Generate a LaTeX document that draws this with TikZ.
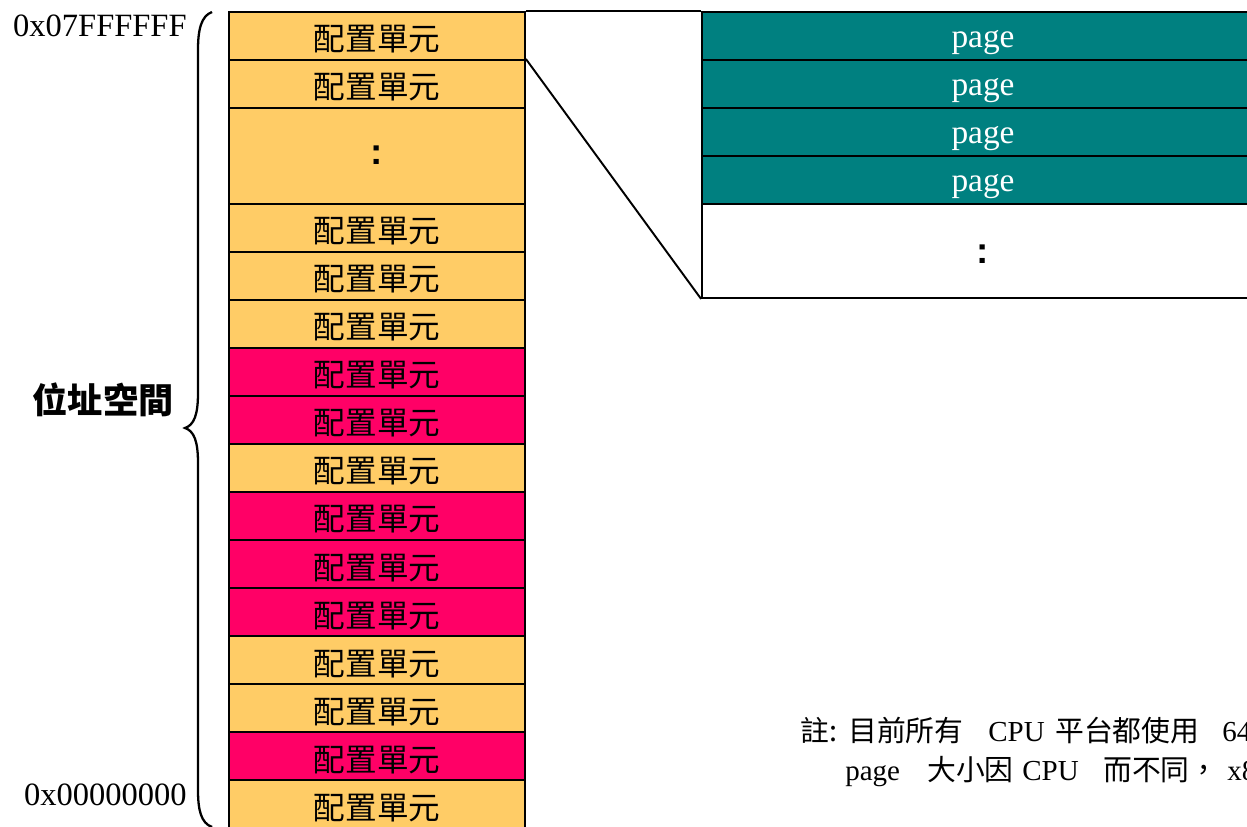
\documentclass[tikz,border=0pt]{standalone}
\usepackage{fontspec}
\setmainfont{Liberation Serif}
\newfontfamily\cjk{Noto Sans CJK TC}
\newfontfamily\arialf{Liberation Sans}
\definecolor{cellY}{HTML}{FFCC66}
\definecolor{cellR}{HTML}{FF0066}
\definecolor{pageT}{HTML}{008080}
\begin{document}
\begin{tikzpicture}[x=0.02cm,y=-0.02cm,
  cell/.style={draw=black, line width=1.1pt, minimum width=5.92cm, minimum height=0.96cm, inner sep=0pt, text height=0.6cm, text depth=0cm, font=\cjk\fontsize{18}{20}\selectfont},
  ycell/.style={cell, fill=cellY},
  rcell/.style={cell, fill=cellR},
  pagecell/.style={draw=black, line width=1.1pt, fill=pageT, text=white, minimum width=11.24cm, minimum height=0.96cm, inner sep=0pt, text height=0.48cm, text depth=0cm, font=\fontsize{19}{21}\selectfont},
  dots/.style={font=\arialf\bfseries\fontsize{21}{23}\selectfont},
  addr/.style={anchor=base east, inner sep=0pt, font=\fontsize{18.5}{20}\selectfont},
  notecjk/.style={anchor=base west, inner sep=0pt, font=\cjk\fontsize{16.4}{18}\selectfont},
  notelat/.style={anchor=base west, inner sep=0pt, font=\fontsize{16.5}{18}\selectfont},
  link/.style={draw=black, line width=1.1pt}]
\useasboundingbox (0,0) rectangle (1247,827);
\clip (0,0) rectangle (1247,827);
% column of allocation units
\node[ycell] (c1) at (377,36) {配置單元};
\node[ycell] (c2) at (377,84) {配置單元};
\node[ycell, minimum height=1.92cm] (c3) at (377,156) {};
\node[dots] (c3d) at (377,155) {:};
\node[ycell] (c4) at (377,228) {配置單元};
\node[ycell] (c5) at (377,276) {配置單元};
\node[ycell] (c6) at (377,324) {配置單元};
\node[rcell] (c7) at (377,372) {配置單元};
\node[rcell] (c8) at (377,420) {配置單元};
\node[ycell] (c9) at (377,468) {配置單元};
\node[rcell] (c10) at (377,516) {配置單元};
\node[rcell] (c11) at (377,564) {配置單元};
\node[rcell] (c12) at (377,612) {配置單元};
\node[ycell] (c13) at (377,660) {配置單元};
\node[ycell] (c14) at (377,708) {配置單元};
\node[rcell] (c15) at (377,756) {配置單元};
\node[ycell] (c16) at (377,804) {配置單元};
% pages
\node[pagecell] (p1) at (983,36) {page};
\node[pagecell] (p2) at (983,84) {page};
\node[pagecell] (p3) at (983,132) {page};
\node[pagecell] (p4) at (983,180) {page};
\node[draw=black, line width=1.1pt, fill=white, minimum width=11.24cm, minimum height=1.88cm, inner sep=0pt] (pd) at (983,251) {};
\node[dots] (pdd) at (983,254) {:};
% connectors
\draw[link] (c1.north east) -- (p1.north west);
\draw[link] (c2.north east) -- (pd.south west);
% addresses
\node[addr] (top) at (187,37) {0x07FFFFFF};
\node[addr] (bot) at (187,805) {0x00000000};
% brace
\draw[line width=1.3pt] (212,12) .. controls (201,16) and (198,30) .. (198,50) -- (198,393)
  .. controls (198,415) and (194,425) .. (185,428)
  .. controls (194,431) and (198,441) .. (198,463) -- (198,790)
  .. controls (198,810) and (201,823) .. (212,827);
\node[font=\cjk\bfseries\fontsize{20}{22}\selectfont, inner sep=0pt] (lbl) at (103,400) {位址空間};
% note
\node[notecjk] (n1) at (800,741) {註:};
\node[notecjk] (n2) at (848,741) {目前所有};
\node[notelat] (n3) at (988,741) {CPU};
\node[notecjk] (n4) at (1055,741) {平台都使用};
\node[notelat] (n5) at (1222,741) {64};
\node[notelat] (m1) at (845,780) {page};
\node[notecjk] (m2) at (927,780) {大小因};
\node[notelat] (m3) at (1022,780) {CPU};
\node[notecjk] (m4) at (1103,780) {而不同，};
\node[notelat] (m5) at (1227,780) {x86};
\end{tikzpicture}
\end{document}
